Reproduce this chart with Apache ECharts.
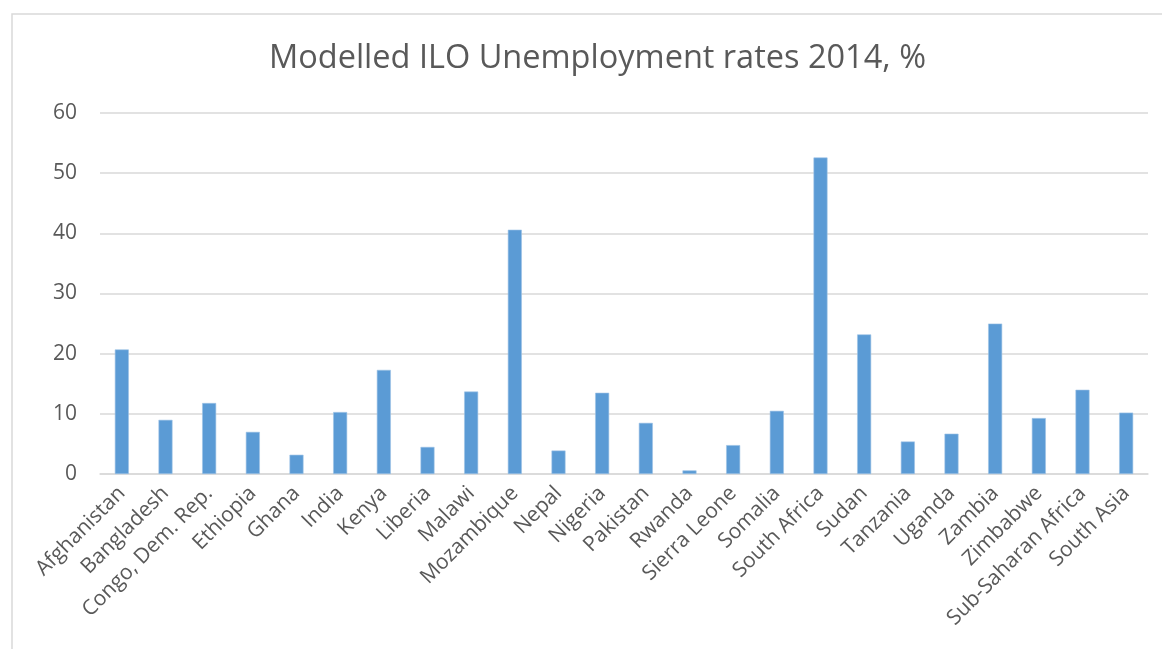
<!DOCTYPE html>
<html>
<head>
<meta charset="utf-8">
<script src="https://cdn.jsdelivr.net/npm/echarts@6/dist/echarts.min.js"></script>
<style>
  html, body { margin: 0; padding: 0; background: #fff; }
  #chart { width: 1162px; height: 649px; }
</style>
</head>
<body>
<div id="chart"></div>
<script>
// Modelled ILO unemployment rates, 2014 (%)
const countries = [
  'Afghanistan', 'Bangladesh', 'Congo, Dem. Rep.', 'Ethiopia', 'Ghana', 'India',
  'Kenya', 'Liberia', 'Malawi', 'Mozambique', 'Nepal', 'Nigeria', 'Pakistan',
  'Rwanda', 'Sierra Leone', 'Somalia', 'South Africa', 'Sudan', 'Tanzania',
  'Uganda', 'Zambia', 'Zimbabwe', 'Sub-Saharan Africa', 'South Asia'
];
const rates = [
  20.7, 9.0, 11.8, 7.0, 3.2, 10.3,
  17.3, 4.5, 13.7, 40.6, 3.9, 13.5, 8.5,
  0.6, 4.8, 10.5, 52.6, 23.2, 5.4,
  6.7, 25.0, 9.3, 14.0, 10.2
];

const FONT = '"Open Sans", "Noto Sans", sans-serif';
const TEXT = '#595959';
const GRID = '#d9d9d9';

const chart = echarts.init(document.getElementById('chart'));

chart.setOption({
  animation: false,
  title: {
    text: 'Modelled ILO Unemployment rates 2014, %',
    left: 264,
    top: 37,
    textStyle: { fontFamily: FONT, fontSize: 32.5, fontWeight: 'normal', color: TEXT },
  },
  graphic: [
    {
      type: 'rect',
      shape: { x: 12, y: 14, width: 1170, height: 700 },
      style: { fill: 'none', stroke: GRID, lineWidth: 1.5 },
      silent: true,
    },
  ],
  grid: {
    left: 100,
    right: 14,
    top: 113,
    bottom: 175,
    containLabel: false,
  },
  xAxis: {
    type: 'category',
    data: countries,
    axisLine: { lineStyle: { color: GRID, width: 1.5 } },
    axisTick: { show: false },
    axisLabel: {
      rotate: 45,
      interval: 0,
      margin: 16,
      fontFamily: FONT,
      fontSize: 21,
      color: TEXT,
    },
  },
  yAxis: {
    type: 'value',
    min: 0,
    max: 60,
    interval: 10,
    axisLine: { show: false },
    axisTick: { show: false },
    axisLabel: { margin: 23, fontFamily: FONT, fontSize: 21, color: TEXT },
    splitLine: { lineStyle: { color: GRID, width: 1.5 } },
  },
  series: [
    {
      name: 'Unemployment rate',
      type: 'bar',
      data: rates,
      barWidth: 14,
      itemStyle: { color: '#5b9bd5', borderColor: '#9dc3e6', borderWidth: 0.6 },
    },
  ],
});
</script>
</body>
</html>
